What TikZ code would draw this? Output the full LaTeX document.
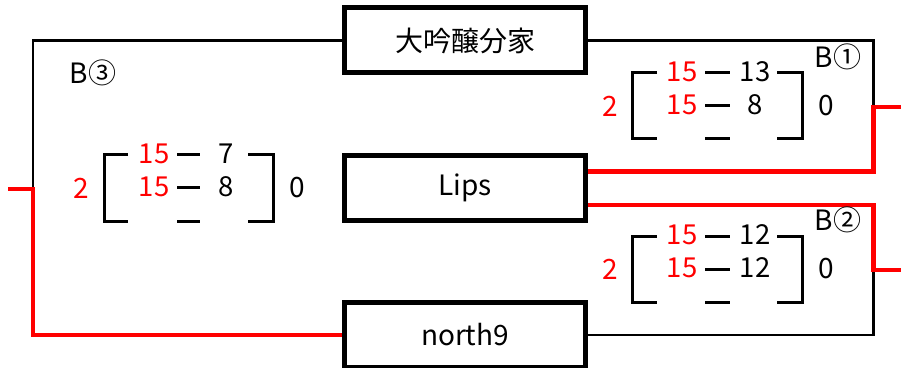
\documentclass[tikz,border=0pt]{standalone}
\usepackage{fontspec}
\setmainfont{Noto Sans CJK JP}

\begin{document}
\begin{tikzpicture}[x=1pt,y=1pt,
	team/.style={draw,line width=5pt,minimum width=241pt,minimum height=65pt,inner sep=0pt,font=\fontsize{28}{28}\selectfont},
	lose/.style={black,line width=2.6pt},
	win/.style={red,line width=4.5pt},
	brk/.style={black,line width=3pt},
	pt/.style={inner sep=0pt,font=\fontsize{27.5}{28}\selectfont},
	wpt/.style={pt,red},
	game/.style={inner sep=0pt,font=\fontsize{28}{28}\selectfont}]
\useasboundingbox (0,0) rectangle (901,367);

% teams
\node[team] (daiginjo) at (465,326.5) {大吟醸分家};
\node[team] (lips) at (465,179) {Lips};
\node[team] (north9) at (465,32) {north9};

\coordinate (inL) at (8,178);
\coordinate (jL) at (33,178);
\coordinate (inR1) at (901,260);
\coordinate (jR1) at (873.5,260);
\coordinate (inR2) at (901,97);
\coordinate (jR2) at (873.5,97);

% lines
\draw[lose] (daiginjo.west) -| (jL);
\draw[lose] (daiginjo.east) -| (jR1);
\draw[lose] (jR2) |- (north9.east);
\draw[win] (inL) -- (jL) |- (north9.west);
\draw[win] (inR1) -- (jR1) |- ([yshift=16.5pt]lips.east);
\draw[win] ([yshift=-17pt]lips.east) -| (jR2) -- (inR2);

% B3
\node[game] (b3) at (93,294) {B③};
\draw[brk] (128,212) -- (104,212) -- (104,146) -- (128,146);
\draw[brk] (248,212) -- (273,212) -- (273,146) -- (248,146);
\draw[brk] (177,212) -- (200,212);
\draw[brk] (177,179) -- (200,179);
\draw[brk] (177,146) -- (200,146);
\node[wpt] (b3a1) at (154,213) {15};
\node[pt] (b3b1) at (226,213) {7};
\node[wpt] (b3a2) at (154,180) {15};
\node[pt] (b3b2) at (226,180) {8};
\node[game,red] (b3w) at (81,179) {2};
\node[game] (b3l) at (297,179) {0};

% B1
\node[game] (b1) at (838,310) {B①};
\draw[brk] (657,294) -- (632,294) -- (632,228) -- (657,228);
\draw[brk] (777,294) -- (802,294) -- (802,228) -- (777,228);
\draw[brk] (705,294) -- (730,294);
\draw[brk] (705,261) -- (730,261);
\draw[brk] (705,228) -- (730,228);
\node[wpt] (b1a1) at (682,295) {15};
\node[pt] (b1b1) at (755,295) {13};
\node[wpt] (b1a2) at (682,262) {15};
\node[pt] (b1b2) at (755,262) {8};
\node[game,red] (b1w) at (610,261) {2};
\node[game] (b1l) at (826,261) {0};

% B2
\node[game] (b2) at (838,147) {B②};
\draw[brk] (657,131) -- (632,131) -- (632,65) -- (657,65);
\draw[brk] (777,131) -- (802,131) -- (802,65) -- (777,65);
\draw[brk] (705,131) -- (730,131);
\draw[brk] (705,98) -- (730,98);
\draw[brk] (705,65) -- (730,65);
\node[wpt] (b2a1) at (682,132) {15};
\node[pt] (b2b1) at (755,132) {12};
\node[wpt] (b2a2) at (682,99) {15};
\node[pt] (b2b2) at (755,99) {12};
\node[game,red] (b2w) at (610,98) {2};
\node[game] (b2l) at (826,98) {0};

\end{tikzpicture}
\end{document}
